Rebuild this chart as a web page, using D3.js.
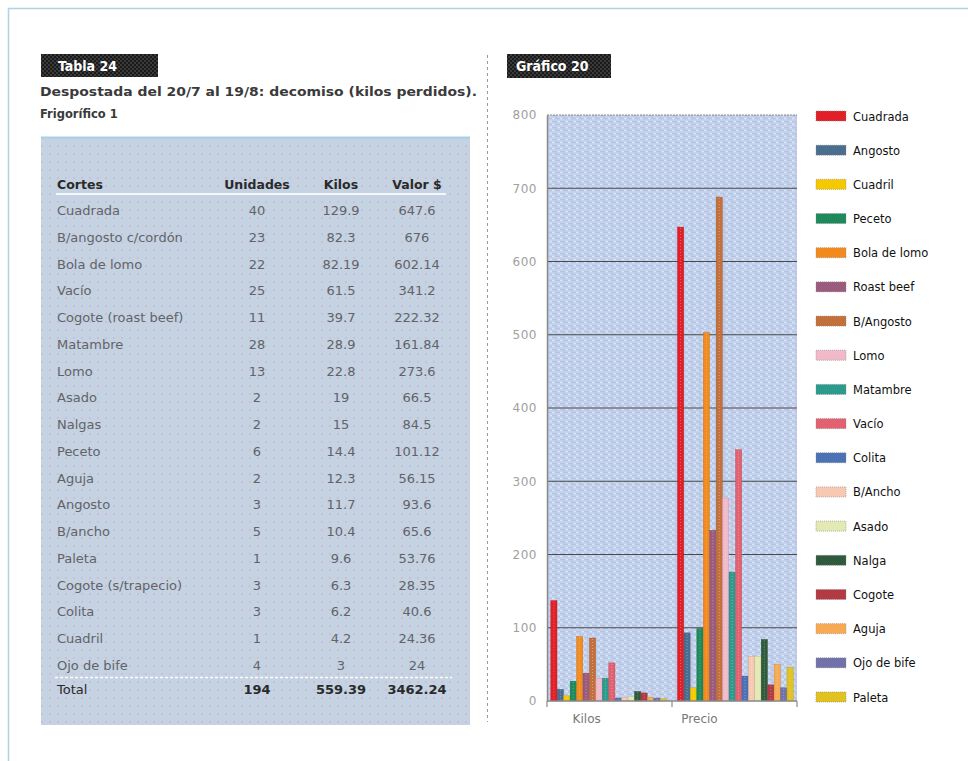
<!DOCTYPE html>
<html>
<head>
<meta charset="utf-8">
<script src="https://cdn.jsdelivr.net/npm/d3@7"></script>
<style>
  html, body { margin: 0; padding: 0; background: #fff; }
  svg { display: block; }
</style>
</head>
<body>
<svg id="chart" width="968" height="761"></svg>
<script>
// ---------- DATA ----------
const tableTitle = "Tabla 24";
const tableSubtitle1 = "Despostada del 20/7 al 19/8: decomiso (kilos perdidos).";
const tableSubtitle2 = "Frigorífico 1";
const tableHeaders = ["Cortes", "Unidades", "Kilos", "Valor $"];
const cortes = ["Cuadrada", "B/angosto c/cordón", "Bola de lomo", "Vacío", "Cogote (roast beef)", "Matambre", "Lomo", "Asado", "Nalgas", "Peceto", "Aguja", "Angosto", "B/ancho", "Paleta", "Cogote (s/trapecio)", "Colita", "Cuadril", "Ojo de bife"];
const unidades = ["40", "23", "22", "25", "11", "28", "13", "2", "2", "6", "2", "3", "5", "1", "3", "3", "1", "4"];
const kilosTabla = ["129.9", "82.3", "82.19", "61.5", "39.7", "28.9", "22.8", "19", "15", "14.4", "12.3", "11.7", "10.4", "9.6", "6.3", "6.2", "4.2", "3"];
const valorTabla = ["647.6", "676", "602.14", "341.2", "222.32", "161.84", "273.6", "66.5", "84.5", "101.12", "56.15", "93.6", "65.6", "53.76", "28.35", "40.6", "24.36", "24"];
const totalRow = ["Total", "194", "559.39", "3462.24"];

const chartTitle = "Gráfico 20";
const categories = ["Kilos", "Precio"];
const series = ["Cuadrada", "Angosto", "Cuadril", "Peceto", "Bola de lomo", "Roast beef", "B/Angosto", "Lomo", "Matambre", "Vacío", "Colita", "B/Ancho", "Asado", "Nalga", "Cogote", "Aguja", "Ojo de bife", "Paleta"];
const kilosValues  = [137, 16, 7, 27, 88, 38, 86, 31, 31, 52, 4, 5, 6, 13, 11, 5, 4, 3];
const precioValues = [647, 93, 18, 99, 503, 233, 688, 277, 176, 343, 34, 61, 61, 84, 22, 50, 18, 46];
const yTicks = [0, 100, 200, 300, 400, 500, 600, 700, 800];
const seriesColors = ["#e21e26", "#4b6e8e", "#f6c800", "#1e8a5c", "#f28a1e", "#9b5b7c", "#c4703a", "#f2b9ca", "#2a9b8c", "#e2606f", "#4a72b4", "#f8c9b2", "#e2e9b2", "#2f5a3b", "#b23a42", "#f8aa52", "#7272aa", "#e2c21e"];

// ---------- SETUP ----------
const svg = d3.select("#chart");
const defs = svg.append("defs");

const dots = defs.append("pattern").attr("id", "dots").attr("patternUnits", "userSpaceOnUse")
  .attr("width", 8).attr("height", 8);
dots.append("rect").attr("width", 8).attr("height", 8).attr("fill", "#c4d2e2");
dots.append("circle").attr("cx", 2).attr("cy", 2).attr("r", 0.8).attr("fill", "#d6a6c6");

const weave = defs.append("pattern").attr("id", "weave").attr("patternUnits", "userSpaceOnUse")
  .attr("width", 8).attr("height", 6);
weave.append("rect").attr("width", 8).attr("height", 6).attr("fill", "#bed9ee");
weave.append("path").attr("d", "M0,1.5 H4 V4.5 H8").attr("fill", "none").attr("stroke", "#c4bce2").attr("stroke-width", 1.3);
weave.append("path").attr("d", "M0,4.5 H2 M6,1.5 H8").attr("fill", "none").attr("stroke", "#d8e8f4").attr("stroke-width", 1);

const chk = defs.append("pattern").attr("id", "chk").attr("patternUnits", "userSpaceOnUse")
  .attr("width", 4).attr("height", 4);
chk.append("rect").attr("width", 4).attr("height", 4).attr("fill", "#1a1a1a");
chk.append("rect").attr("width", 2).attr("height", 2).attr("fill", "#3a3a3a");
chk.append("rect").attr("x", 2).attr("y", 2).attr("width", 2).attr("height", 2).attr("fill", "#3a3a3a");

svg.append("path").attr("d", "M8.5,761 V8.5 H968").attr("fill", "none")
  .attr("stroke", "#b2d0e2").attr("stroke-width", 1.5);

svg.append("line").attr("x1", 487.5).attr("x2", 487.5).attr("y1", 55).attr("y2", 722)
  .attr("stroke", "#9a9a9a").attr("stroke-dasharray", "3,3");

function labelBox(x, y, w, h, text, tx) {
  svg.append("rect").attr("x", x).attr("y", y).attr("width", w).attr("height", h).attr("fill", "url(#chk)");
  svg.append("text").attr("x", tx).attr("y", y + h / 2 + 5).attr("fill", "#fff")
    .attr("font-family", "DejaVu Sans Condensed, DejaVu Sans").attr("font-weight", "bold")
    .attr("font-size", 14).text(text);
}

// ---------- LEFT: TABLE ----------
labelBox(41, 54, 117, 23, tableTitle, 58);
svg.append("text").attr("x", 40).attr("y", 96).attr("fill", "#3a3a3a")
  .attr("font-family", "DejaVu Sans").attr("font-weight", "bold").attr("font-size", 11.5)
  .attr("textLength", 437).attr("lengthAdjust", "spacingAndGlyphs").text(tableSubtitle1);
svg.append("text").attr("x", 40).attr("y", 118).attr("fill", "#3a3a3a")
  .attr("font-family", "DejaVu Sans").attr("font-weight", "bold").attr("font-size", 11.5)
  .text(tableSubtitle2);

svg.append("rect").attr("x", 41).attr("y", 137).attr("width", 429).attr("height", 588).attr("fill", "url(#dots)");
svg.append("line").attr("x1", 41).attr("x2", 470).attr("y1", 137.5).attr("y2", 137.5)
  .attr("stroke", "#a6d0e8").attr("stroke-width", 2);

const colX = [57, 257, 341, 417];
const colAnchor = ["start", "middle", "middle", "middle"];
const rowY = d3.scaleLinear().domain([0, cortes.length - 1]).range([215, 670]);

const tbl = svg.append("g").attr("font-family", "DejaVu Sans");
tbl.selectAll("text.h").data(tableHeaders).join("text")
  .attr("x", (d, i) => colX[i]).attr("y", 189).attr("text-anchor", (d, i) => colAnchor[i])
  .attr("font-weight", "bold").attr("font-size", 12.5).attr("fill", "#2a2a2a").text(d => d);
tbl.append("line").attr("x1", 56).attr("x2", 446).attr("y1", 194).attr("y2", 194)
  .attr("stroke", "#f4f8fc").attr("stroke-width", 2);

const rows = cortes.map((c, i) => [c, unidades[i], kilosTabla[i], valorTabla[i]]);
rows.forEach((r, ri) => {
  tbl.selectAll(null).data(r).join("text")
    .attr("x", (d, i) => colX[i]).attr("y", rowY(ri)).attr("text-anchor", (d, i) => colAnchor[i])
    .attr("font-size", 13).attr("fill", "#626368").text(d => d);
});
tbl.append("line").attr("x1", 55).attr("x2", 452).attr("y1", 677.5).attr("y2", 677.5)
  .attr("stroke", "#ffffff").attr("stroke-width", 1.5).attr("stroke-dasharray", "3,2");
tbl.selectAll("text.t").data(totalRow).join("text")
  .attr("x", (d, i) => colX[i]).attr("y", 694).attr("text-anchor", (d, i) => colAnchor[i])
  .attr("font-weight", (d, i) => i === 0 ? "normal" : "bold")
  .attr("font-size", 13).attr("fill", "#2a2a2a").text(d => d);

// ---------- RIGHT: CHART ----------
labelBox(507, 54, 104, 24, chartTitle, 516);

const plot = { left: 547, right: 797, top: 115, bottom: 701 };
const y = d3.scaleLinear().domain([0, 800]).range([plot.bottom, plot.top]);
const x0 = d3.scaleBand().domain(categories).range([plot.left, plot.right]).paddingInner(0.087).paddingOuter(0.03);
const x1 = d3.scaleBand().domain(series).range([0, x0.bandwidth()]).paddingInner(0.04);
const color = d3.scaleOrdinal().domain(series).range(seriesColors);

svg.append("rect").attr("x", plot.left).attr("y", plot.top).attr("width", plot.right - plot.left)
  .attr("height", plot.bottom - plot.top).attr("fill", "url(#weave)");

svg.append("g").selectAll("line").data(yTicks.filter(t => t > 0 && t < 800)).join("line")
  .attr("x1", plot.left).attr("x2", plot.right).attr("y1", d => y(d)).attr("y2", d => y(d))
  .attr("stroke", "#4a4a4a").attr("stroke-width", 1.2);
svg.append("line").attr("x1", plot.left).attr("x2", plot.right).attr("y1", y(800)).attr("y2", y(800))
  .attr("stroke", "#888").attr("stroke-dasharray", "2,1");

const yAxis = svg.append("g").attr("transform", `translate(${plot.left},0)`)
  .call(d3.axisLeft(y).tickValues(yTicks).tickSize(0).tickPadding(10));
yAxis.select(".domain").attr("stroke", "#8a8a8a").attr("stroke-width", 1.5);
yAxis.selectAll("text").attr("font-family", "DejaVu Sans").attr("font-size", 12)
  .attr("fill", "#a0a0a0").attr("letter-spacing", 0.5);

const data = categories.map((c, ci) => ({ cat: c, values: series.map((s, si) => ({ s, v: ci === 0 ? kilosValues[si] : precioValues[si] })) }));
const groups = svg.append("g").selectAll("g").data(data).join("g")
  .attr("transform", d => `translate(${x0(d.cat)},0)`);
groups.selectAll("rect").data(d => d.values).join("rect")
  .attr("x", d => x1(d.s)).attr("width", x1.bandwidth())
  .attr("y", d => y(d.v)).attr("height", d => y(0) - y(d.v))
  .attr("fill", d => color(d.s)).attr("stroke", d => d3.color(color(d.s)).darker(0.6)).attr("stroke-width", 0.4);
groups.selectAll("line").data(d => d.values).join("line")
  .attr("x1", d => x1(d.s) + x1.bandwidth() / 2).attr("x2", d => x1(d.s) + x1.bandwidth() / 2)
  .attr("y1", d => y(d.v) + 1).attr("y2", y(0))
  .attr("stroke", "rgba(255,255,255,0.35)").attr("stroke-width", 1).attr("stroke-dasharray", "1,2");

svg.append("line").attr("x1", plot.left).attr("x2", plot.right).attr("y1", plot.bottom).attr("y2", plot.bottom)
  .attr("stroke", "#8a8a8a").attr("stroke-width", 1.5);
const tickXs = [plot.left, (x0(categories[0]) + x0.bandwidth() + x0(categories[1])) / 2, plot.right];
svg.append("g").selectAll("line").data(tickXs).join("line")
  .attr("x1", d => d).attr("x2", d => d).attr("y1", plot.bottom).attr("y2", plot.bottom + 6)
  .attr("stroke", "#8a8a8a").attr("stroke-width", 1.2);
const labelShift = [0.31, 0.19];
svg.append("g").selectAll("text").data(categories).join("text")
  .attr("x", (d, i) => x0(d) + x0.bandwidth() * labelShift[i]).attr("y", 723)
  .attr("text-anchor", "middle").attr("font-family", "DejaVu Sans").attr("font-size", 12)
  .attr("fill", "#777").text(d => d);

const leg = d3.scaleLinear().domain([0, series.length - 1]).range([116, 697]);
const lg = svg.append("g").selectAll("g").data(series).join("g")
  .attr("transform", (d, i) => `translate(816,${leg(i)})`);
lg.append("rect").attr("x", 0).attr("y", -5).attr("width", 30).attr("height", 10)
  .attr("fill", d => color(d)).attr("stroke", "#8a8a8a").attr("stroke-width", 0.6).attr("stroke-dasharray", "1,1");
lg.append("text").attr("x", 37).attr("y", 4.5).attr("font-family", "DejaVu Sans").attr("font-size", 11.5)
  .attr("fill", "#111").text(d => d);
</script>
</body>
</html>
